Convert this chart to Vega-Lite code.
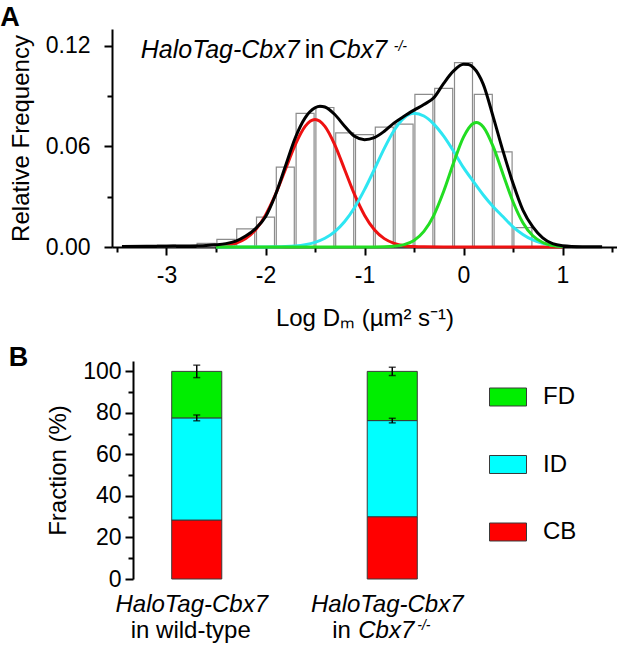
{
  "$schema": "https://vega.github.io/schema/vega-lite/v6.json",
  "padding": {"left": 0, "top": 4, "right": 0, "bottom": 0},
  "spacing": 14,
  "config": {
    "font": "Liberation Sans",
    "view": {"stroke": null},
    "axis": {
      "domainColor": "black", "domainWidth": 2, "tickColor": "black", "tickWidth": 2,
      "labelFont": "Liberation Sans", "labelFontSize": 23, "labelColor": "black",
      "titleFont": "Liberation Sans", "titleFontSize": 24, "titleFontWeight": "normal", "titleColor": "black",
      "grid": false
    },
    "title": {"font": "Liberation Sans", "fontSize": 27, "fontWeight": "bold", "color": "black", "anchor": "start", "frame": "bounds"}
  },
  "resolve": {"scale": {"color": "independent"}, "legend": {"color": "independent"}},
  "datasets": {
    "hist": [
      {"logD": -3.0, "freq": 0.0012}, {"logD": -2.6, "freq": 0.0022}, {"logD": -2.4, "freq": 0.0045},
      {"logD": -2.2, "freq": 0.0108}, {"logD": -2.0, "freq": 0.0178}, {"logD": -1.8, "freq": 0.0476},
      {"logD": -1.6, "freq": 0.0797}, {"logD": -1.4, "freq": 0.0832}, {"logD": -1.2, "freq": 0.068},
      {"logD": -1.0, "freq": 0.067}, {"logD": -0.8, "freq": 0.0715}, {"logD": -0.6, "freq": 0.0733},
      {"logD": -0.4, "freq": 0.091}, {"logD": -0.2, "freq": 0.0946}, {"logD": 0.0, "freq": 0.110},
      {"logD": 0.2, "freq": 0.091}, {"logD": 0.4, "freq": 0.0567}, {"logD": 0.6, "freq": 0.0115}
    ],
    "fitCB": [
      {"logD": -2.5, "freq": 0.0003}, {"logD": -2.4, "freq": 0.0008}, {"logD": -2.3, "freq": 0.0022},
      {"logD": -2.2, "freq": 0.005}, {"logD": -2.1, "freq": 0.0103}, {"logD": -2.0, "freq": 0.019},
      {"logD": -1.9, "freq": 0.0312}, {"logD": -1.8, "freq": 0.0461}, {"logD": -1.7, "freq": 0.0609},
      {"logD": -1.6, "freq": 0.0719}, {"logD": -1.5, "freq": 0.076}, {"logD": -1.4, "freq": 0.0719},
      {"logD": -1.3, "freq": 0.0609}, {"logD": -1.2, "freq": 0.0461}, {"logD": -1.1, "freq": 0.0312},
      {"logD": -1.0, "freq": 0.019}, {"logD": -0.9, "freq": 0.0103}, {"logD": -0.8, "freq": 0.005},
      {"logD": -0.7, "freq": 0.0022}, {"logD": -0.6, "freq": 0.0008}, {"logD": -0.5, "freq": 0.0003},
      {"logD": -0.4, "freq": 0.0001}, {"logD": -0.2, "freq": 0}, {"logD": 0.2, "freq": 0},
      {"logD": 0.6, "freq": 0}, {"logD": 1.0, "freq": 0}
    ],
    "fitID": [
      {"logD": -2.5, "freq": 0}, {"logD": -2.2, "freq": 0}, {"logD": -2.0, "freq": 0.00005},
      {"logD": -1.9, "freq": 0.00012}, {"logD": -1.8, "freq": 0.00029}, {"logD": -1.7, "freq": 0.00065},
      {"logD": -1.6, "freq": 0.0014}, {"logD": -1.5, "freq": 0.0028}, {"logD": -1.4, "freq": 0.0052},
      {"logD": -1.3, "freq": 0.0092}, {"logD": -1.2, "freq": 0.0152}, {"logD": -1.1, "freq": 0.0236},
      {"logD": -1.0, "freq": 0.0342}, {"logD": -0.9, "freq": 0.0463}, {"logD": -0.8, "freq": 0.0588},
      {"logD": -0.7, "freq": 0.0696}, {"logD": -0.6, "freq": 0.077}, {"logD": -0.5, "freq": 0.0797},
      {"logD": -0.4, "freq": 0.0781}, {"logD": -0.3, "freq": 0.0733}, {"logD": -0.2, "freq": 0.0661},
      {"logD": -0.1, "freq": 0.0571}, {"logD": 0.0, "freq": 0.0473}, {"logD": 0.1, "freq": 0.039},
      {"logD": 0.2, "freq": 0.031}, {"logD": 0.3, "freq": 0.024}, {"logD": 0.4, "freq": 0.018},
      {"logD": 0.5, "freq": 0.012}, {"logD": 0.6, "freq": 0.0075}, {"logD": 0.7, "freq": 0.0042},
      {"logD": 0.8, "freq": 0.0022}, {"logD": 0.9, "freq": 0.001}, {"logD": 1.0, "freq": 0.0004}
    ],
    "fitFD": [
      {"logD": -2.5, "freq": 0}, {"logD": -2.0, "freq": 0}, {"logD": -1.5, "freq": 0},
      {"logD": -1.0, "freq": 0}, {"logD": -0.9, "freq": 0.00002}, {"logD": -0.8, "freq": 0.0001},
      {"logD": -0.7, "freq": 0.00045}, {"logD": -0.6, "freq": 0.0014}, {"logD": -0.5, "freq": 0.0039},
      {"logD": -0.4, "freq": 0.0093}, {"logD": -0.3, "freq": 0.0189}, {"logD": -0.2, "freq": 0.0332},
      {"logD": -0.1, "freq": 0.0502}, {"logD": 0.0, "freq": 0.0655}, {"logD": 0.1, "freq": 0.0737},
      {"logD": 0.13, "freq": 0.0742}, {"logD": 0.2, "freq": 0.0716}, {"logD": 0.3, "freq": 0.0599},
      {"logD": 0.4, "freq": 0.0433}, {"logD": 0.5, "freq": 0.027}, {"logD": 0.6, "freq": 0.0145},
      {"logD": 0.7, "freq": 0.0067}, {"logD": 0.8, "freq": 0.0027}, {"logD": 0.9, "freq": 0.0009},
      {"logD": 1.0, "freq": 0.0003}
    ],
    "fitSum": [
      {"logD": -3.45, "freq": 0.0003}, {"logD": -3.2, "freq": 0.0004}, {"logD": -3.0, "freq": 0.0005},
      {"logD": -2.8, "freq": 0.0006}, {"logD": -2.6, "freq": 0.0009}, {"logD": -2.5, "freq": 0.0013},
      {"logD": -2.4, "freq": 0.002}, {"logD": -2.3, "freq": 0.0035}, {"logD": -2.2, "freq": 0.0065},
      {"logD": -2.1, "freq": 0.011}, {"logD": -2.0, "freq": 0.018}, {"logD": -1.9, "freq": 0.031},
      {"logD": -1.8, "freq": 0.048}, {"logD": -1.7, "freq": 0.065}, {"logD": -1.6, "freq": 0.077},
      {"logD": -1.5, "freq": 0.083}, {"logD": -1.45, "freq": 0.084}, {"logD": -1.4, "freq": 0.0835},
      {"logD": -1.3, "freq": 0.079}, {"logD": -1.2, "freq": 0.072}, {"logD": -1.1, "freq": 0.066},
      {"logD": -1.0, "freq": 0.064}, {"logD": -0.9, "freq": 0.0652}, {"logD": -0.8, "freq": 0.069},
      {"logD": -0.7, "freq": 0.074}, {"logD": -0.6, "freq": 0.078}, {"logD": -0.5, "freq": 0.0816},
      {"logD": -0.4, "freq": 0.085}, {"logD": -0.3, "freq": 0.089}, {"logD": -0.2, "freq": 0.0976},
      {"logD": -0.1, "freq": 0.105}, {"logD": 0.0, "freq": 0.109}, {"logD": 0.05, "freq": 0.1088},
      {"logD": 0.1, "freq": 0.107}, {"logD": 0.2, "freq": 0.097}, {"logD": 0.3, "freq": 0.0776},
      {"logD": 0.4, "freq": 0.057}, {"logD": 0.5, "freq": 0.038}, {"logD": 0.6, "freq": 0.022},
      {"logD": 0.7, "freq": 0.012}, {"logD": 0.8, "freq": 0.0055}, {"logD": 0.9, "freq": 0.002},
      {"logD": 1.0, "freq": 0.0008}, {"logD": 1.2, "freq": 0.0002}, {"logD": 1.4, "freq": 0.0001}
    ],
    "fractions": [
      {"sample": "wt", "comp": "CB", "pct": 28.4},
      {"sample": "wt", "comp": "ID", "pct": 49.2},
      {"sample": "wt", "comp": "FD", "pct": 22.4},
      {"sample": "ko", "comp": "CB", "pct": 30.0},
      {"sample": "ko", "comp": "ID", "pct": 46.3},
      {"sample": "ko", "comp": "FD", "pct": 23.7}
    ],
    "errors": [
      {"sample": "wt", "center": 77.6, "err": 1.4},
      {"sample": "wt", "center": 100, "err": 3.0},
      {"sample": "ko", "center": 76.3, "err": 1.1},
      {"sample": "ko", "center": 100, "err": 2.0}
    ]
  },
  "vconcat": [
    {
      "width": 505,
      "height": 218,
      "title": {"text": "A", "dx": -9, "offset": -3},
      "layer": [
        {
          "data": {"name": "hist"},
          "mark": {"type": "bar", "orient": "vertical", "width": 18, "fill": "white", "stroke": "#8c8c8c", "strokeWidth": 1.2},
          "encoding": {
            "x": {
              "field": "logD", "type": "quantitative",
              "scale": {"domain": [-3.5, 1.5], "nice": false, "zero": false},
              "axis": {
                "orient": "bottom", "values": [-3, -2, -1, 0, 1], "tickSize": 8, "labelPadding": 9,
                "labelFlush": false, "labelExpr": "replace(format(datum.value, 'd'), '\u2212', '-')",
                "title": "Log D\u2098 (\u00b5m\u00b2 s\u207b\u00b9)", "titlePadding": 19
              }
            },
            "y": {
              "field": "freq", "type": "quantitative",
              "scale": {"domain": [0, 0.13], "nice": false},
              "axis": {
                "orient": "left", "values": [0, 0.06, 0.12], "format": ".2f", "tickSize": 8, "labelPadding": 14,
                "title": "Relative Frequency", "titlePadding": 12
              }
            }
          }
        },
        {
          "data": {"name": "fitCB"},
          "mark": {"type": "line", "color": "#ee1111", "strokeWidth": 3, "interpolate": "monotone"},
          "encoding": {
            "x": {"field": "logD", "type": "quantitative",
              "axis": {"orient": "bottom", "values": [-3.5, -2.5, -1.5, -0.5, 0.5, 1.5], "tickSize": 5, "labels": false, "domain": false, "title": null}},
            "y": {"field": "freq", "type": "quantitative",
              "axis": {"orient": "left", "values": [0.03, 0.09], "tickSize": 5, "labels": false, "domain": false, "title": null}}
          }
        },
        {
          "data": {"name": "fitID"},
          "mark": {"type": "line", "color": "#2ee6f2", "strokeWidth": 3, "interpolate": "monotone"},
          "encoding": {
            "x": {"field": "logD", "type": "quantitative", "axis": null},
            "y": {"field": "freq", "type": "quantitative", "axis": null}
          }
        },
        {
          "data": {"name": "fitFD"},
          "mark": {"type": "line", "color": "#22dd22", "strokeWidth": 3, "interpolate": "monotone"},
          "encoding": {
            "x": {"field": "logD", "type": "quantitative", "axis": null},
            "y": {"field": "freq", "type": "quantitative", "axis": null}
          }
        },
        {
          "data": {"name": "fitSum"},
          "mark": {"type": "line", "color": "black", "strokeWidth": 3, "interpolate": "monotone"},
          "encoding": {
            "x": {"field": "logD", "type": "quantitative", "axis": null},
            "y": {"field": "freq", "type": "quantitative", "axis": null}
          }
        },
        {
          "data": {"values": [{}]},
          "mark": {"type": "text", "text": "HaloTag-Cbx7", "fontStyle": "italic", "fontSize": 25, "align": "left", "baseline": "alphabetic", "color": "black"},
          "encoding": {
            "x": {"datum": -3.26, "type": "quantitative", "axis": null},
            "y": {"datum": 0.1125, "type": "quantitative", "axis": null}
          }
        },
        {
          "data": {"values": [{}]},
          "mark": {"type": "text", "text": "in", "fontSize": 25, "align": "left", "baseline": "alphabetic", "dx": 164, "color": "black"},
          "encoding": {
            "x": {"datum": -3.26, "type": "quantitative", "axis": null},
            "y": {"datum": 0.1125, "type": "quantitative", "axis": null}
          }
        },
        {
          "data": {"values": [{}]},
          "mark": {"type": "text", "text": "Cbx7", "fontStyle": "italic", "fontSize": 25, "align": "left", "baseline": "alphabetic", "dx": 188, "color": "black"},
          "encoding": {
            "x": {"datum": -3.26, "type": "quantitative", "axis": null},
            "y": {"datum": 0.1125, "type": "quantitative", "axis": null}
          }
        },
        {
          "data": {"values": [{}]},
          "mark": {"type": "text", "text": "-/-", "fontStyle": "italic", "fontSize": 14, "align": "left", "baseline": "alphabetic", "dx": 253, "dy": -7, "color": "black"},
          "encoding": {
            "x": {"datum": -3.26, "type": "quantitative", "axis": null},
            "y": {"datum": 0.1125, "type": "quantitative", "axis": null}
          }
        }
      ],
      "resolve": {"axis": {"x": "independent", "y": "independent"}}
    },
    {
      "width": 344,
      "height": 218,
      "title": {"text": "B", "dx": -38, "offset": -12},
      "layer": [
        {
          "data": {"name": "fractions"},
          "transform": [{"calculate": "indexof(['CB', 'ID', 'FD'], datum.comp)", "as": "stackOrder"}],
          "mark": {"type": "bar", "stroke": "#3a3a3a", "strokeWidth": 1},
          "encoding": {
            "x": {
              "field": "sample", "type": "nominal",
              "scale": {"domain": ["wt", "ko"], "range": [21, 344], "paddingInner": 0.744, "paddingOuter": 0.198},
              "axis": {"title": null, "labels": false, "ticks": false}
            },
            "y": {
              "field": "pct", "type": "quantitative", "stack": "zero",
              "scale": {"domain": [0, 105], "nice": false},
              "axis": {
                "orient": "left", "offset": -21, "values": [0, 20, 40, 60, 80, 100], "tickSize": 8, "labelPadding": 4,
                "title": "Fraction (%)", "titlePadding": 12
              }
            },
            "color": {
              "field": "comp", "type": "nominal",
              "scale": {"domain": ["FD", "ID", "CB"], "range": ["#00ee00", "#00ffff", "#ff0000"]},
              "legend": {
                "orient": "none", "legendX": 377, "legendY": 17, "title": null, "padding": 0,
                "symbolType": "M-1,-0.486H1V0.486H-1Z", "symbolSize": 1369, "symbolStrokeColor": "#3a3a3a",
                "symbolStrokeWidth": 1, "symbolOpacity": 1, "labelFont": "Liberation Sans", "labelFontSize": 24,
                "labelColor": "black", "labelOffset": 16, "rowPadding": 36.5
              }
            },
            "order": {"field": "stackOrder", "type": "quantitative"}
          }
        },
        {
          "data": {"name": "errors"},
          "mark": {"type": "errorbar", "ticks": true, "color": "black", "thickness": 1.5, "size": 7},
          "encoding": {
            "x": {"field": "sample", "type": "nominal"},
            "y": {
              "field": "center", "type": "quantitative",
              "axis": {"orient": "left", "offset": -21, "values": [10, 30, 50, 70, 90], "tickSize": 5, "labels": false, "domain": false, "title": null}
            },
            "yError": {"field": "err"}
          }
        },
        {
          "data": {"values": [{"sample": "wt"}, {"sample": "ko"}]},
          "mark": {"type": "text", "text": "HaloTag-Cbx7", "fontStyle": "italic", "fontSize": 24, "align": "center", "baseline": "alphabetic", "dx": -5, "color": "black"},
          "encoding": {
            "x": {"field": "sample", "type": "nominal", "axis": null},
            "y": {"datum": -16.1, "type": "quantitative", "axis": null}
          }
        },
        {
          "data": {"values": [{}]},
          "mark": {"type": "text", "text": "in wild-type", "fontSize": 24, "align": "center", "baseline": "alphabetic", "dx": -6, "color": "black"},
          "encoding": {
            "x": {"datum": "wt", "type": "nominal", "axis": null},
            "y": {"datum": -28.3, "type": "quantitative", "axis": null}
          }
        },
        {
          "data": {"values": [{}]},
          "mark": {"type": "text", "text": "in", "fontSize": 24, "align": "left", "baseline": "alphabetic", "dx": -60, "color": "black"},
          "encoding": {
            "x": {"datum": "ko", "type": "nominal", "axis": null},
            "y": {"datum": -28.3, "type": "quantitative", "axis": null}
          }
        },
        {
          "data": {"values": [{}]},
          "mark": {"type": "text", "text": "Cbx7", "fontStyle": "italic", "fontSize": 24, "align": "left", "baseline": "alphabetic", "dx": -34, "color": "black"},
          "encoding": {
            "x": {"datum": "ko", "type": "nominal", "axis": null},
            "y": {"datum": -28.3, "type": "quantitative", "axis": null}
          }
        },
        {
          "data": {"values": [{}]},
          "mark": {"type": "text", "text": "-/-", "fontStyle": "italic", "fontSize": 14, "align": "left", "baseline": "alphabetic", "dx": 25, "dy": -8, "color": "black"},
          "encoding": {
            "x": {"datum": "ko", "type": "nominal", "axis": null},
            "y": {"datum": -28.3, "type": "quantitative", "axis": null}
          }
        }
      ],
      "resolve": {"axis": {"y": "independent"}}
    }
  ]
}
